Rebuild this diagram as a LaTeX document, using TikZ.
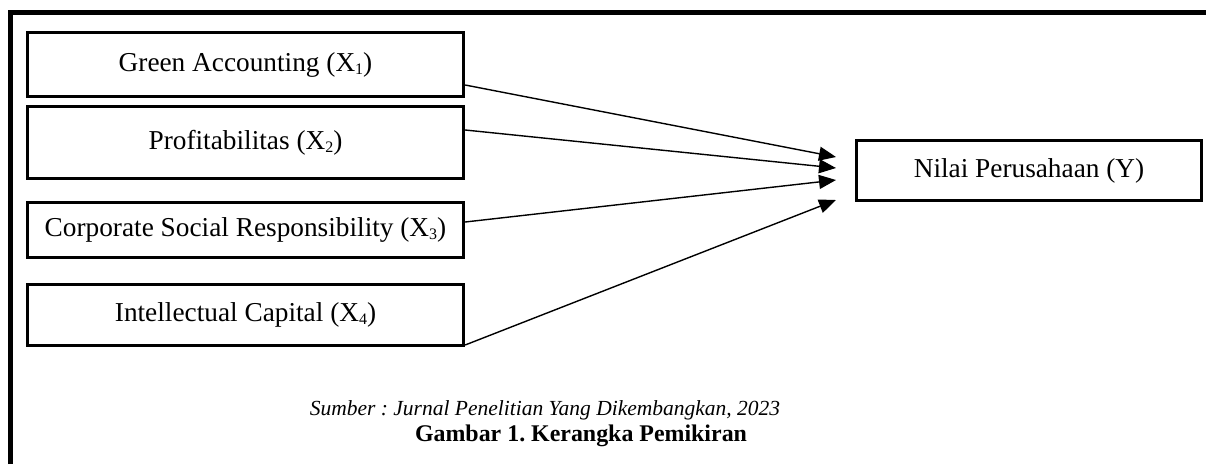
\documentclass[tikz,border=0pt]{standalone}
\usepackage{fontspec}
\setmainfont{Liberation Serif}
\usetikzlibrary{arrows.meta}
\frenchspacing
\newcommand{\sbs}[1]{\raisebox{-0.12em}{\fontsize{16}{16}\selectfont #1}}
\begin{document}
\begin{tikzpicture}[x=1pt,y=-1pt,
  varbox/.style={draw=black,line width=3.3pt,minimum width=436pt,inner sep=0pt,font=\fontsize{27.3}{30}\selectfont},
  arr/.style={line width=1.4pt,-{Triangle[length=17pt,width=14pt]}},
  lbl/.style={inner sep=0pt}]
\useasboundingbox (0,0) rectangle (1206,464);
\draw[line width=5pt] (10.5,464) -- (10.5,12.5) -- (1206,12.5);
\node[varbox,minimum height=64pt] (b1) at (245.5,64.5) {Green Accounting (X\sbs{1})};
\node[varbox,minimum height=72pt] (b2) at (245.5,142.5) {Profitabilitas (X\sbs{2})};
\node[varbox,minimum height=55pt] (b3) at (245.5,230) {Corporate Social Responsibility (X\sbs{3})};
\node[varbox,minimum height=61pt] (b4) at (245.5,315) {Intellectual Capital (X\sbs{4})};
\node[varbox,minimum width=345pt,minimum height=60pt] (y) at (1029,170.5) {Nilai Perusahaan (Y)};
\coordinate (t1) at (836,157);
\coordinate (t2) at (836,168);
\coordinate (t3) at (836,180);
\coordinate (t4) at (836,200);
\draw[arr] ([yshift=-20.5pt]b1.east) -- (t1);
\draw[arr] ([yshift=12.5pt]b2.east) -- (t2);
\draw[arr] ([yshift=8pt]b3.east) -- (t3);
\draw[arr] ([yshift=-30pt]b4.east) -- (t4);
\node[lbl,font=\fontsize{21.5}{24}\selectfont\itshape] (src) at (545,410) {Sumber : Jurnal Penelitian Yang Dikembangkan, 2023};
\node[lbl,font=\fontsize{23.9}{27}\selectfont\bfseries] (cap) at (581,436) {Gambar 1. Kerangka Pemikiran};
\end{tikzpicture}
\end{document}
